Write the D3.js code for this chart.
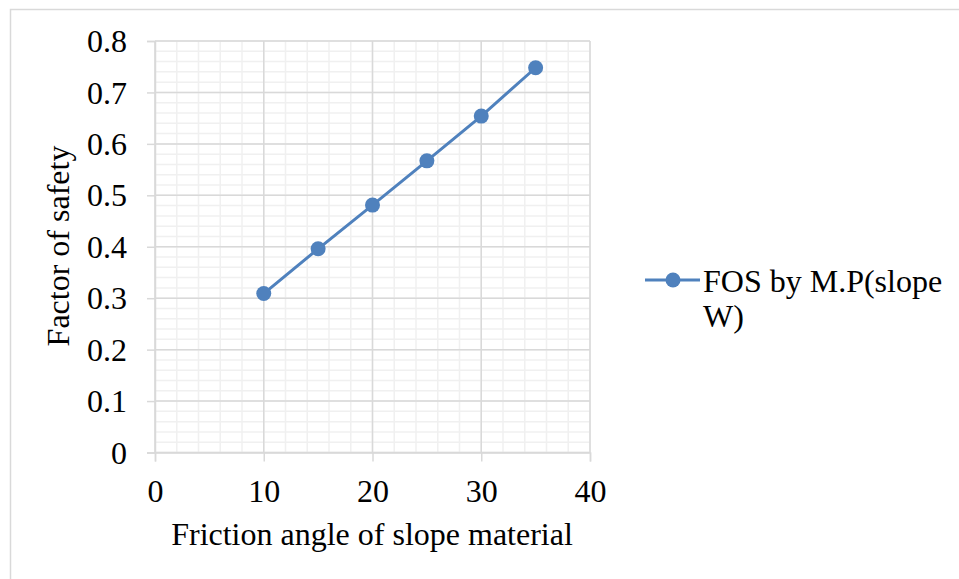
<!DOCTYPE html>
<html>
<head>
<meta charset="utf-8">
<script src="https://cdn.jsdelivr.net/npm/d3@7"></script>
<style>
  html, body { margin: 0; padding: 0; background: #fff; }
  svg { display: block; }
  text { font-family: "Liberation Serif", "Times New Roman", serif; fill: #000; }
</style>
</head>
<body>
<svg id="chart" width="959" height="579"></svg>
<script>
// Factor of safety versus friction angle
const frictionAngles = [10, 15, 20, 25, 30, 35];
const fosValues = [0.309, 0.396, 0.481, 0.567, 0.654, 0.748];
const xTicks = [0, 10, 20, 30, 40];
const yTicks = [0, 0.1, 0.2, 0.3, 0.4, 0.5, 0.6, 0.7, 0.8];
const seriesName = ["FOS by M.P(slope", "W)"];
const xTitle = "Friction angle of slope material";
const yTitle = "Factor of safety";

const FONT = 32;

const svg = d3.select("#chart");
const plotLeft = 155, plotRight = 590, plotTop = 41, plotBottom = 452.5;

const x = d3.scaleLinear().domain([0, 40]).range([plotLeft, plotRight]);
const y = d3.scaleLinear().domain([0, 0.8]).range([plotBottom, plotTop]);

// outer frame
svg.append("rect")
  .attr("x", 10.5).attr("y", 9.5)
  .attr("width", 1000).attr("height", 1000)
  .attr("fill", "none").attr("stroke", "#d9d9d9").attr("stroke-width", 1.5);

// minor grid
const gMin = svg.append("g");
gMin.selectAll("line.xminor").data(d3.range(0, 40.001, 2))
  .join("line")
  .attr("x1", d => x(d)).attr("x2", d => x(d))
  .attr("y1", plotTop).attr("y2", plotBottom)
  .attr("stroke", "#f0f0f0").attr("stroke-width", 1.5);
const gMinY = svg.append("g");
gMinY.selectAll("line.yminor").data(d3.range(0, 0.8001, 0.02))
  .join("line")
  .attr("x1", plotLeft).attr("x2", plotRight)
  .attr("y1", d => y(d)).attr("y2", d => y(d))
  .attr("stroke", "#f0f0f0").attr("stroke-width", 1.5);

// major grid
const gMaj = svg.append("g");
gMaj.selectAll("line.xmajor").data(xTicks)
  .join("line")
  .attr("x1", d => x(d)).attr("x2", d => x(d))
  .attr("y1", plotTop).attr("y2", plotBottom)
  .attr("stroke", "#d9d9d9").attr("stroke-width", 1.5);
const gMajY = svg.append("g");
gMajY.selectAll("line.ymajor").data(yTicks)
  .join("line")
  .attr("x1", plotLeft).attr("x2", plotRight)
  .attr("y1", d => y(d)).attr("y2", d => y(d))
  .attr("stroke", "#d9d9d9").attr("stroke-width", 1.5);

// axes
const xAxis = d3.axisBottom(x).tickValues(xTicks).tickSize(9).tickFormat(d3.format("d"));
const yAxis = d3.axisLeft(y).tickValues(yTicks).tickSize(8)
  .tickFormat(d => d === 0 ? "0" : d3.format(".1f")(d));

const gx = svg.append("g").attr("transform", `translate(0,${plotBottom})`).call(xAxis);
const gy = svg.append("g").attr("transform", `translate(${plotLeft},0)`).call(yAxis);
[gx, gy].forEach(a => {
  a.select(".domain").attr("stroke", "#d9d9d9").attr("stroke-width", 1.5);
  a.selectAll(".tick line").attr("stroke", "#d9d9d9").attr("stroke-width", 1.5);
  a.selectAll(".tick text")
    .attr("font-family", "Liberation Serif, Times New Roman, serif")
    .attr("font-size", FONT).attr("fill", "#000");
});
gx.selectAll(".tick text").attr("y", 49.5).attr("dy", 0);
gy.selectAll(".tick text").attr("x", -28).attr("dy", "0.33em");

// axis titles
svg.append("text")
  .attr("x", 372).attr("y", 545)
  .attr("text-anchor", "middle").attr("font-size", FONT)
  .text(xTitle);
svg.append("text")
  .attr("transform", `translate(69,246) rotate(-90)`)
  .attr("text-anchor", "middle").attr("font-size", FONT)
  .text(yTitle);

// series
const color = "#4f81bd";
const pts = frictionAngles.map((a, i) => [a, fosValues[i]]);
svg.append("path")
  .datum(pts)
  .attr("fill", "none").attr("stroke", color).attr("stroke-width", 3)
  .attr("d", d3.line().x(d => x(d[0])).y(d => y(d[1])));
svg.selectAll("circle.pt").data(pts).join("circle")
  .attr("cx", d => x(d[0])).attr("cy", d => y(d[1]))
  .attr("r", 7.5).attr("fill", color);

// legend
const lg = svg.append("g");
lg.append("line").attr("x1", 645).attr("x2", 700).attr("y1", 280).attr("y2", 280)
  .attr("stroke", color).attr("stroke-width", 3);
lg.append("circle").attr("cx", 673).attr("cy", 280).attr("r", 7.5).attr("fill", color);
lg.selectAll("text").data(seriesName).join("text")
  .attr("x", 703).attr("y", (d, i) => 291.5 + i * 35)
  .attr("font-size", FONT)
  .text(d => d);
</script>
</body>
</html>
